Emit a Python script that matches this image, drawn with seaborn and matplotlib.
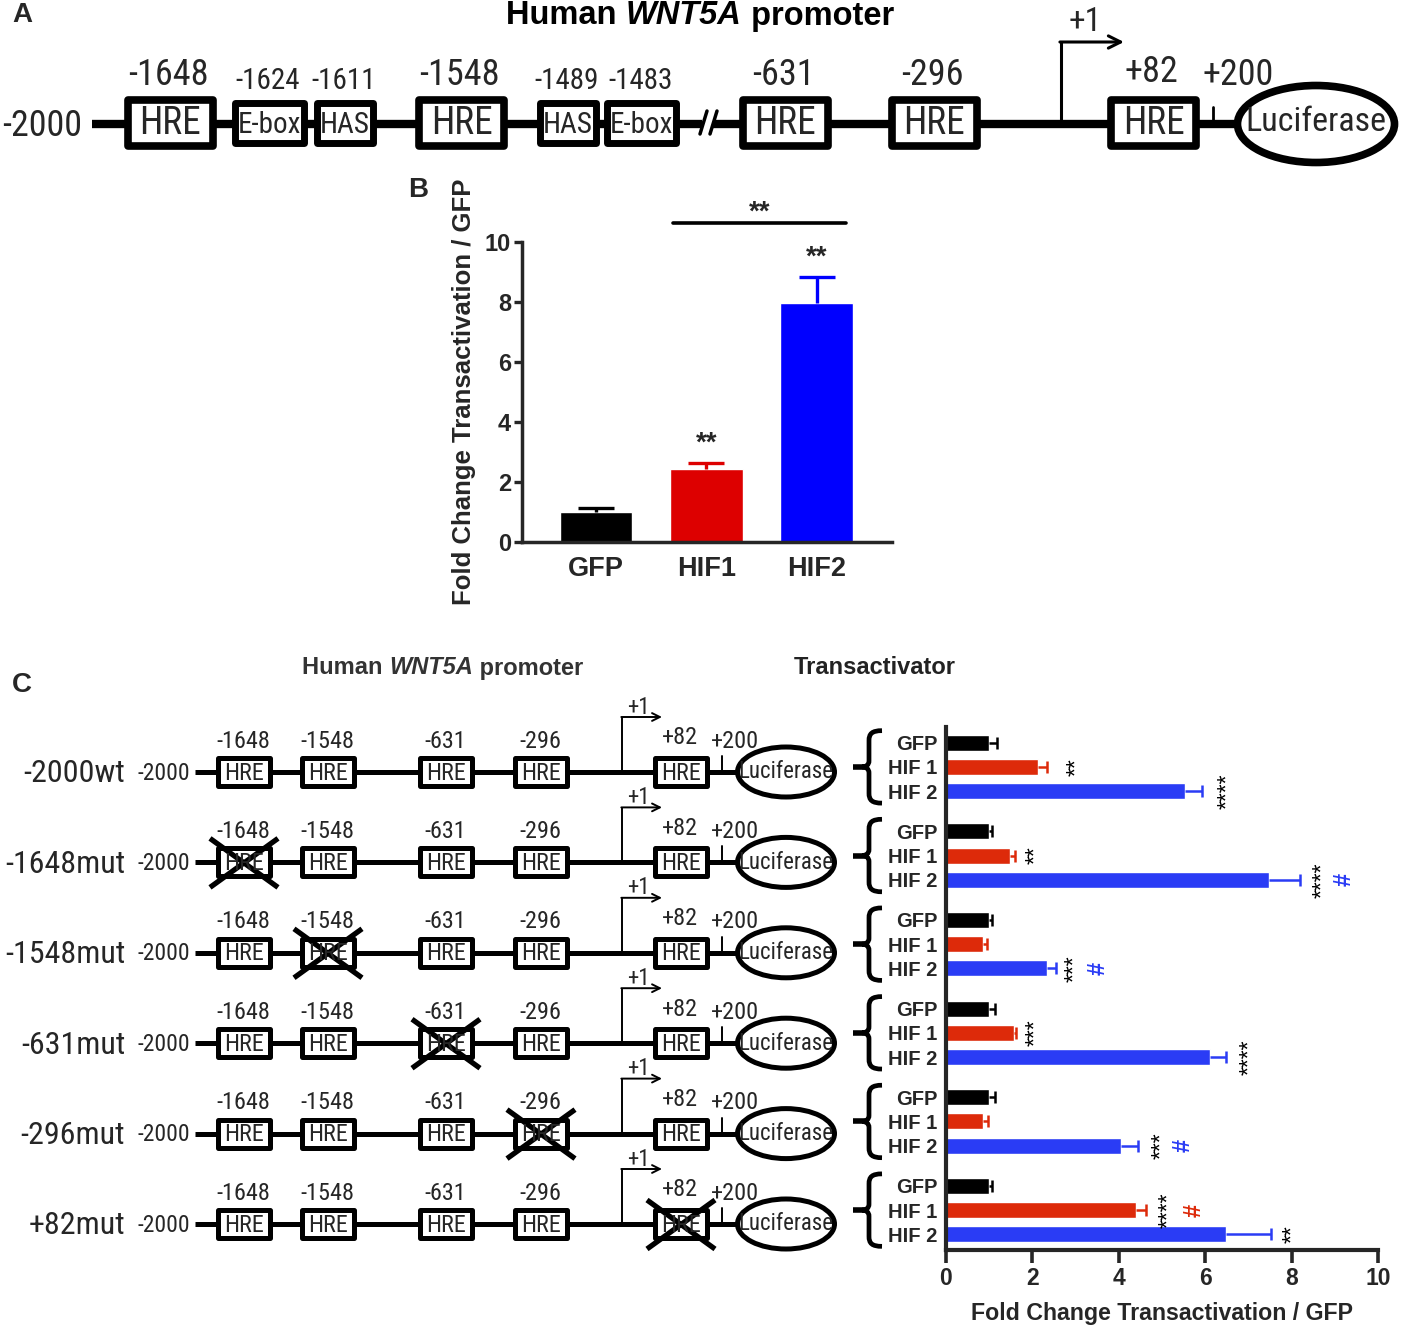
import pandas as pd
import matplotlib
matplotlib.use("Agg")
import matplotlib.pyplot as plt
import seaborn as sns
from matplotlib import font_manager as fm
from matplotlib.patches import Rectangle, Ellipse, PathPatch
from matplotlib.path import Path

# ---------------- data ----------------
# panel B
b_groups = ["GFP", "HIF1", "HIF2"]
b_mean = [1.0, 2.43, 7.97]
b_err = [0.12, 0.20, 0.86]
b_stars = ["", "**", "**"]
b_bracket = "**"

# panel C
c_constructs = ["-2000wt", "-1648mut", "-1548mut", "-631mut", "-296mut", "+82mut"]
c_mutated = [None, "-1648", "-1548", "-631", "-296", "+82"]
c_factors = ["GFP", "HIF 1", "HIF 2"]
c_gfp = [1.0, 1.0, 1.0, 1.0, 1.0, 1.0]
c_gfp_err = [0.19, 0.06, 0.06, 0.13, 0.13, 0.06]
c_hif1 = [2.14, 1.48, 0.85, 1.57, 0.86, 4.40]
c_hif1_err = [0.19, 0.11, 0.11, 0.05, 0.12, 0.24]
c_hif2 = [5.54, 7.48, 2.34, 6.12, 4.06, 6.47]
c_hif2_err = [0.39, 0.72, 0.21, 0.36, 0.38, 1.06]
# (construct, factor, text, x position, colour key)
c_marks = [
    (0, 1, "**", 3.02, "k"), (0, 2, "****", 6.52, "k"),
    (1, 1, "**", 2.07, "k"), (1, 2, "****", 8.73, "k"), (1, 2, "#", 9.22, "blue"),
    (2, 2, "***", 2.99, "k"), (2, 2, "#", 3.53, "blue"),
    (3, 1, "***", 2.07, "k"), (3, 2, "****", 7.04, "k"),
    (4, 2, "***", 4.99, "k"), (4, 2, "#", 5.48, "blue"),
    (5, 1, "****", 5.15, "k"), (5, 1, "#", 5.75, "red"), (5, 2, "**", 8.03, "k"),
]

# promoter elements (panel A)
a_sites = ["-1648", "-1624", "-1611", "-1548", "-1489", "-1483", "-631", "-296", "+82"]
a_kinds = ["HRE", "E-box", "HAS", "HRE", "HAS", "E-box", "HRE", "HRE", "HRE"]
# promoter elements (panel C)
c_sites = ["-1648", "-1548", "-631", "-296", "+82"]

# ---------------- layout (pixels) ----------------
W, H = 1407, 1327
a_x = [170.5, 269, 344.5, 461.5, 568, 641.5, 785, 934, 1153.5]
a_w = {"HRE": 85, "E-box": 69, "HAS": 56}
c_x = [244, 328, 446, 541, 681]
row_y0, row_step = 772, 90.4

b_red, b_blue = "#dd0000", "#0000ff"
c_red, c_blue = "#dd2a0a", "#2a3cf5"

sns.set_style("ticks")
plt.rcParams["font.family"] = ["Liberation Sans", "DejaVu Sans"]

# condensed face for the schematic labels, if one is installed
avail = {f.name for f in fm.fontManager.ttflist}
NARROW, NS = ["Liberation Sans"], 0.84
for cand in ["Liberation Sans Narrow", "Arial Narrow", "Roboto Condensed", "Open Sans Condensed"]:
    if cand in avail:
        NARROW, NS = [cand], 1.0
        break

fig = plt.figure(figsize=(W / 100, H / 100), dpi=100)
ov = fig.add_axes([0, 0, 1, 1])
ov.set_xlim(0, W)
ov.set_ylim(H, 0)
ov.axis("off")


def box(x, y, w, h, lw):
    ov.add_patch(Rectangle((x - w / 2, y - h / 2), w, h, fc="white", ec="black",
                           lw=lw, joinstyle="round", zorder=3))


def txt(x, y, s, size, ha="center", **kw):
    ov.text(x, y, s, fontsize=size * NS, family=NARROW, ha=ha, va="center", zorder=5, **kw)


def arrow(x, y, top, end, lw, head):
    ov.plot([x, x], [y, top], color="k", lw=lw, solid_capstyle="butt", zorder=2)
    ov.annotate("", xy=(end, top), xytext=(x - lw / 2, top),
                arrowprops=dict(arrowstyle="->", lw=lw, color="k", shrinkA=0, shrinkB=0,
                                mutation_scale=head), zorder=2)


def mixed_title(xc, y, size, color):
    r = fig.canvas.get_renderer()
    parts = [("Human ", "normal"), ("WNT5A", "italic"), (" promoter", "normal")]
    objs = [ov.text(0, y, s, fontsize=size, weight="bold", style=st, color=color,
                    ha="left", va="center") for s, st in parts]
    widths = [t.get_window_extent(r).width for t in objs]
    x = xc - sum(widths) / 2
    for t, w in zip(objs, widths):
        t.set_x(x)
        x += w


# ---------------- panel A ----------------
ov.text(12, 15, "A", fontsize=20, weight="bold", va="center")
mixed_title(700, 16, 23.5, "black")
ya = 124
ov.plot([92, 702], [ya, ya], color="k", lw=6, solid_capstyle="butt", zorder=2)
ov.plot([713, 1240], [ya, ya], color="k", lw=6, solid_capstyle="butt", zorder=2)
for dx in (0, 10):
    ov.plot([700 + dx, 707 + dx], [134, 111], color="k", lw=2.5, zorder=2)
txt(82, ya + 2, "-2000", 26, ha="right")
for site, kind, x in zip(a_sites, a_kinds, a_x):
    if kind == "HRE":
        box(x, ya - 1, a_w[kind], 46, 5.5)
        txt(x, ya, kind, 27)
        txt(x - 2, 75 if site != "+82" else 72, site, 26)
    else:
        box(x, ya - 1, a_w[kind], 40, 5)
        txt(x, ya + 1, kind, 21)
        txt(x - 1, 81, site, 21)
arrow(1061, ya, 42, 1124, 2.2, 22)
txt(1085, 22, "+1", 24)
ov.plot([1213, 1213], [107, ya], color="k", lw=2, zorder=2)
txt(1238, 75, "+200", 26)
ov.add_patch(Ellipse((1316, ya), 157, 77, fc="white", ec="k", lw=5.5, zorder=3))
txt(1316, ya - 2, "Luciferase", 24.5)

# ---------------- panel C diagram ----------------
ov.text(12, 685, "C", fontsize=20, weight="bold", va="center")
mixed_title(443, 668, 17, "#333333")
ov.text(875, 668, "Transactivator", fontsize=17, weight="bold", ha="center",
        va="center", color="#222222")
for r, (name, mut) in enumerate(zip(c_constructs, c_mutated)):
    yc = row_y0 + r * row_step
    txt(125, yc + 2, name, 23)
    ov.texts[-1].set_ha("right")
    txt(190, yc + 1, "-2000", 17, ha="right")
    ov.plot([195, 737], [yc, yc], color="k", lw=3.6, solid_capstyle="butt", zorder=2)
    for site, x in zip(c_sites, c_x):
        box(x, yc, 52, 28, 3.6)
        txt(x, yc + 1, "HRE", 17.5)
        txt(x - 1, yc - (34 if site == "+82" else 31), site, 17.5)
        if site == mut:
            for y1, y2 in ((yc - 24, yc + 25), (yc + 25, yc - 24)):
                ov.plot([x - 34, x + 34], [y1, y2], color="k", lw=3.8, zorder=4,
                        solid_capstyle="butt")
    arrow(622, yc, yc - 55, 662, 1.4, 14)
    txt(638, yc - 65, "+1", 16.5)
    ov.plot([722, 722], [yc - 16, yc], color="k", lw=1.4, zorder=2)
    txt(735, yc - 31, "+200", 17.5)
    ov.add_patch(Ellipse((786, yc), 97, 50, fc="white", ec="k", lw=3.6, zorder=3))
    txt(786, yc, "Luciferase", 16.5)

# ---------------- panel B ----------------
axb = fig.add_axes([522 / W, 1 - 542 / H, 370 / W, 300 / H])
axb.patch.set_alpha(0)
sns.barplot(x=b_groups, y=b_mean, hue=b_groups, palette=["black", b_red, b_blue],
            width=0.66, errorbar=None, legend=False, ax=axb, saturation=1)
for i, (m, e, c, s) in enumerate(zip(b_mean, b_err, ["black", b_red, b_blue], b_stars)):
    eb = axb.errorbar(i, m, yerr=[[0], [e]], fmt="none", ecolor=c, elinewidth=2.4,
                      capsize=13, capthick=2.4, zorder=1)
    eb[1][0].set_visible(False)
    if s:
        axb.annotate(s, (i, m + e), xytext=(0, 14), textcoords="offset points",
                     ha="center", va="center", fontsize=20, weight="bold", annotation_clip=False)
axb.plot([0.70, 2.26], [10.63, 10.63], color="k", lw=2.6, clip_on=False)
axb.text(1.48, 10.98, b_bracket, ha="center", va="center", fontsize=20, weight="bold")
axb.set_xlim(-0.67, 2.68)
axb.set_ylim(0, 10)
axb.set_yticks([0, 2, 4, 6, 8, 10])
axb.set_ylabel("Fold Change Transactivation / GFP", fontsize=18.5, weight="bold", labelpad=6)
axb.tick_params(axis="x", length=0, pad=10, labelsize=19.5)
axb.tick_params(axis="y", length=6, width=2.4, pad=2, labelsize=17)
for lbl in axb.get_xticklabels() + axb.get_yticklabels():
    lbl.set_fontweight("bold")
sns.despine(ax=axb)
for sp in ("left", "bottom"):
    axb.spines[sp].set_linewidth(2.5)
fig.text(408 / W, 1 - 190 / H, "B", fontsize=20, weight="bold", va="center")

# ---------------- panel C bars ----------------
axc = fig.add_axes([946 / W, 1 - 1250 / H, 432 / W, 523 / H])
axc.patch.set_alpha(0)
df = pd.DataFrame({
    "construct": c_constructs * 3,
    "factor": [f for f in c_factors for _ in c_constructs],
    "value": c_gfp + c_hif1 + c_hif2,
    "err": c_gfp_err + c_hif1_err + c_hif2_err,
})
pal = {"GFP": "black", "HIF 1": c_red, "HIF 2": c_blue}
width = 0.82
sns.barplot(data=df, y="construct", x="value", hue="factor", order=c_constructs,
            hue_order=c_factors, palette=pal, orient="h", width=width, gap=0.34,
            errorbar=None, legend=False, saturation=1, ax=axc)
slot = width / len(c_factors)
for _, row in df.iterrows():
    i = c_constructs.index(row["construct"])
    j = c_factors.index(row["factor"])
    y = i + (j - 1) * slot
    eb = axc.errorbar(row["value"], y, xerr=[[0], [row["err"]]], fmt="none",
                      ecolor=pal[row["factor"]], elinewidth=1.8, capsize=4.5, capthick=1.8,
                      zorder=1)
    eb[1][0].set_visible(False)
ypos, ylab = [], []
for i in range(len(c_constructs)):
    for j, f in enumerate(c_factors):
        ypos.append(i + (j - 1) * slot)
        ylab.append(f)
mark_col = {"k": "black", "blue": c_blue, "red": c_red}
for i, j, s, x, ck in c_marks:
    y = i + (j - 1) * slot
    if s == "#":
        axc.text(x, y, s, rotation=90, ha="center", va="center", fontsize=17,
                 weight="bold", color=mark_col[ck], clip_on=False)
    else:
        axc.text(x, y, s, rotation=90, ha="center", va="center", fontsize=16.5,
                 color=mark_col[ck], clip_on=False)
axc.set_yticks(ypos)
axc.set_yticklabels(ylab)
axc.set_ylim(5.45, -0.45)
axc.set_xlim(0, 10)
axc.set_xticks([0, 2, 4, 6, 8, 10])
axc.set_ylabel("")
axc.set_xlabel("Fold Change Transactivation / GFP", fontsize=16.7, weight="bold", labelpad=9)
axc.tick_params(axis="y", length=0, pad=6, labelsize=14.5)
axc.tick_params(axis="x", length=9, width=2.6, pad=3, labelsize=16.5)
for lbl in axc.get_xticklabels() + axc.get_yticklabels():
    lbl.set_fontweight("bold")
sns.despine(ax=axc)
for sp in ("left", "bottom"):
    axc.spines[sp].set_linewidth(3)

# braces around each transactivator group
for i in range(len(c_constructs)):
    top_px = axc.transData.transform((0, i - slot))[1]
    bot_px = axc.transData.transform((0, i + slot))[1]
    t, b = H - top_px - 12, H - bot_px + 12
    m = (t + b) / 2
    verts = [(882, t), (872, t), (869, t + 3), (869, t + 10),
             (869, m - 6),
             (869, m - 2), (866, m), (862, m),
             (866, m), (869, m + 2), (869, m + 6),
             (869, b - 10),
             (869, b - 3), (872, b), (882, b)]
    codes = [Path.MOVETO, Path.CURVE4, Path.CURVE4, Path.CURVE4, Path.LINETO,
             Path.CURVE4, Path.CURVE4, Path.CURVE4, Path.CURVE4, Path.CURVE4, Path.CURVE4,
             Path.LINETO, Path.CURVE4, Path.CURVE4, Path.CURVE4]
    ov.add_patch(PathPatch(Path(verts, codes), fc="none", ec="k", lw=3.4, zorder=3))
    ov.plot([853, 866], [m, m], color="k", lw=4, solid_capstyle="butt", zorder=3)

fig.savefig("out.png", dpi=100)
